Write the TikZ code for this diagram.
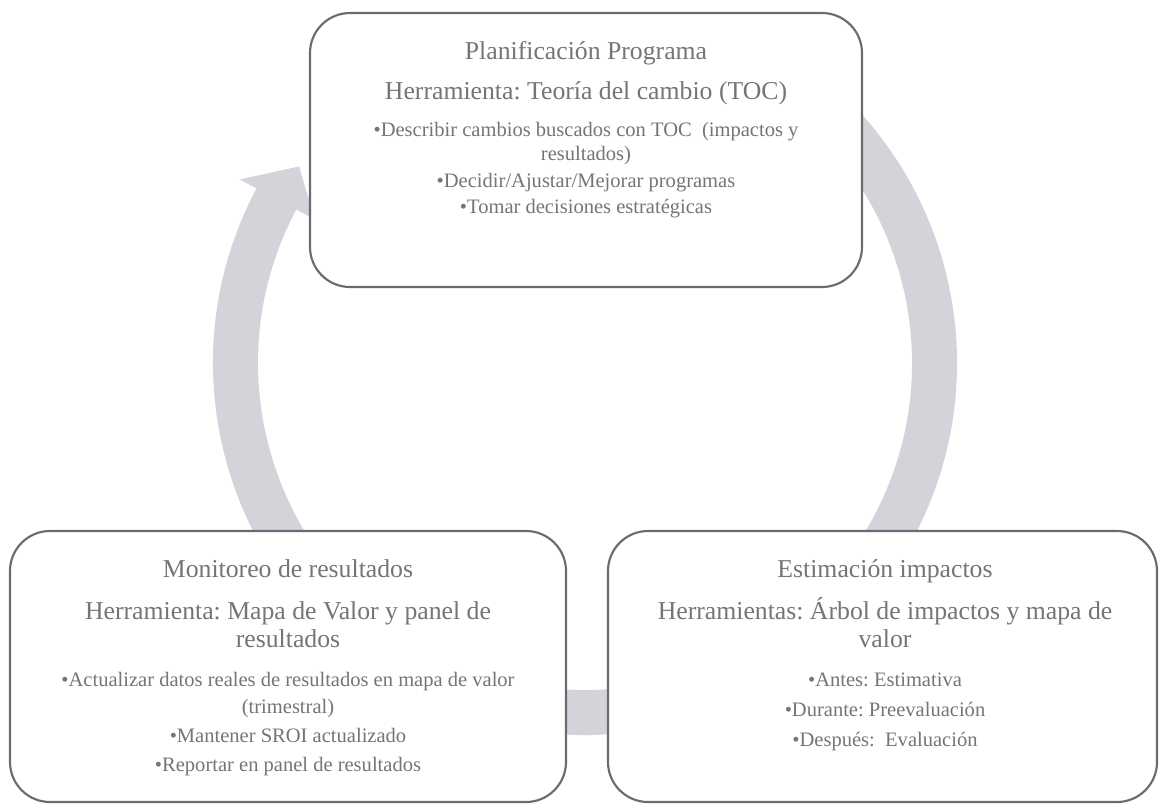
\documentclass[tikz,border=0pt]{standalone}
\usepackage{fontspec}
\setmainfont{Liberation Serif}
\usetikzlibrary{calc}
\definecolor{ringgray}{HTML}{D3D4DA}
\definecolor{boxline}{HTML}{6A6A75}
\definecolor{txtgray}{HTML}{757575}
\frenchspacing
\begin{document}
\begin{tikzpicture}[x=0.75pt,y=-0.75pt,
  box/.style={draw=boxline, line width=1.6pt, fill=white, rounded corners=30pt, rectangle, inner sep=0pt},
  ttl/.style={anchor=base, inner sep=0pt, text=txtgray, font=\fontsize{19.3}{23}\selectfont},
  itm/.style={anchor=base, inner sep=0pt, text=txtgray, font=\fontsize{15.4}{18}\selectfont}]
\fill[white] (0,0) rectangle (1159,804);
\useasboundingbox (0,0) rectangle (1159,804);
\coordinate (c) at (585,363);
% circular arrow
\fill[ringgray] ($(c)+(-152:372)$) arc[start angle=-152, end angle=-420, radius=372]
  -- ($(c)+(-420:327)$) arc[start angle=-420, end angle=-152, radius=327]
  -- ($(c)+(-152:306)$) -- ($(c)+(-145.5:347)$) -- ($(c)+(-152:391)$) -- cycle;
% boxes
\node[box, minimum width=414pt, minimum height=205.5pt] (plan) at (586,150) {};
\node[box, minimum width=417pt, minimum height=203.25pt] (moni) at (288,666.5) {};
\node[box, minimum width=411.75pt, minimum height=203.25pt] (esti) at (882.5,666.5) {};
% top box text
\node[ttl] (p1) at (586,59) {Planificación Programa};
\node[ttl] (p2) at (586,99) {Herramienta: Teoría del cambio (TOC)};
\node[itm] (p3) at (586,136) {•Describir cambios buscados con TOC\ \ (impactos y};
\node[itm] (p4) at (586,160) {resultados)};
\node[itm] (p5) at (586,187) {•Decidir/Ajustar/Mejorar programas};
\node[itm] (p6) at (586,213) {•Tomar decisiones estratégicas};
% bottom-left text
\node[ttl] (m1) at (288,577) {Monitoreo de resultados};
\node[ttl] (m2) at (288,619) {Herramienta: Mapa de Valor y panel de};
\node[ttl] (m3) at (288,647) {resultados};
\node[itm] (m4) at (288,686) {•Actualizar datos reales de resultados en mapa de valor};
\node[itm] (m5) at (288,713) {(trimestral)};
\node[itm] (m6) at (288,742) {•Mantener SROI actualizado};
\node[itm] (m7) at (288,771) {•Reportar en panel de resultados};
% bottom-right text
\node[ttl] (e1) at (885,577) {Estimación impactos};
\node[ttl] (e2) at (885,619) {Herramientas: Árbol de impactos y mapa de};
\node[ttl] (e3) at (885,647) {valor};
\node[itm] (e4) at (885,686) {•Antes: Estimativa};
\node[itm] (e5) at (885,716) {•Durante: Preevaluación};
\node[itm] (e6) at (885,746) {•Después:\ \ Evaluación};
\end{tikzpicture}
\end{document}
